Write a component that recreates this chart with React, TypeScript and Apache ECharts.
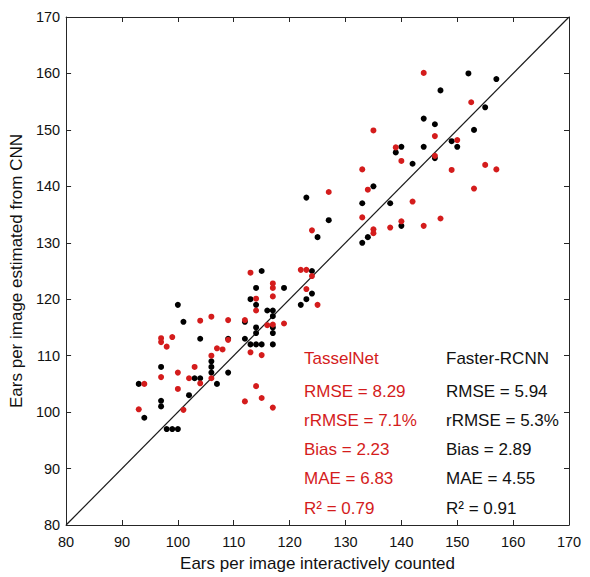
import React, { useEffect, useRef } from "react";
import * as echarts from "echarts";

// Faster-RCNN (black): [interactively counted, estimated]
const fasterRcnn: number[][] = [
  [100, 119], [101, 116], [104, 113], [109, 113], [112, 116], [112, 113],
  [97, 108], [106, 109], [106, 108], [106, 107], [109, 107], [103, 106],
  [104, 106], [107, 105], [93, 105], [102, 103], [97, 102], [97, 101],
  [94, 99], [98, 97], [99, 97], [100, 97], [115, 125], [124, 125],
  [114, 122], [119, 122], [113, 120], [114, 119], [116, 118], [117, 118],
  [117, 117], [114, 115], [117, 115], [114, 114], [117, 114], [113, 112],
  [114, 112], [115, 112], [117, 112], [124, 121], [123, 120], [122, 119],
  [123, 138], [127, 134], [125, 131], [133, 137], [135, 140], [133, 130],
  [134, 131], [152, 160], [147, 157], [155, 154], [144, 152], [146, 151],
  [153, 150], [149, 148], [150, 147], [140, 147], [144, 147], [139, 146],
  [146, 145], [142, 144], [138, 137], [140, 133], [157, 159],
];

// TasselNet (red)
const tasselNet: number[][] = [
  [104, 116.2], [106, 116.9], [109, 116.3], [112, 116.3], [97, 113.1],
  [97, 112.4], [99, 113.3], [98, 111.6], [107, 111.3], [108, 111.1],
  [109, 112.8], [106, 110], [103, 108], [100, 107], [97, 106.2],
  [102, 106], [94, 105], [104, 105.1], [106, 106], [100, 104.1],
  [93, 100.5], [101, 100.4], [112, 101.9], [113, 124.7], [122, 125.2],
  [123, 125.2], [124, 124.1], [117, 122.8], [117, 122], [117, 120.5],
  [114, 120.1], [123, 121.8], [125, 119], [119, 115.7], [116, 115.4],
  [117, 115.5], [113, 110.6], [115, 110.1], [114, 104.6], [115, 102.5],
  [117, 100.8], [114, 118], [127, 139], [124, 132.2], [133, 143],
  [134, 139.4], [133, 134.5], [135, 132.4], [135, 131.7], [144, 160.1],
  [152.5, 154.9], [135, 149.9], [146, 148.9], [150, 148.2], [139, 146.9],
  [140, 144.5], [146, 145.4], [149, 142.9], [155, 143.8], [153, 139.6],
  [142, 137.3], [140, 133.8], [138, 132.7], [144, 133], [147, 134.3],
  [157, 143],
];

const identityLine: number[][] = [[80, 80], [170, 170]];

const tasselStats: string[] = ["TasselNet", "RMSE = 8.29", "rRMSE = 7.1%", "Bias = 2.23", "MAE = 6.83", "R² = 0.79"];
const rcnnStats: string[] = ["Faster-RCNN", "RMSE = 5.94", "rRMSE = 5.3%", "Bias = 2.89", "MAE = 4.55", "R² = 0.91"];
const statsY: number[] = [358, 391, 420, 449, 478, 508];

const RED = "#d41c1c";
const AX = "#262626";
const FONT = "Arial, 'Liberation Sans', sans-serif";

export default function App() {
  const ref = useRef<HTMLDivElement>(null);
  useEffect(() => {
    if (!ref.current) return;
    const chart = echarts.init(ref.current, null, { renderer: "svg" });
    const axisCommon = {
      type: "value" as const,
      min: 80,
      max: 170,
      interval: 10,
      splitLine: { show: false },
      axisLine: { show: true, onZero: false, lineStyle: { color: AX, width: 1 } },
      axisTick: { show: true, inside: true, length: 5, lineStyle: { color: AX } },
    };
    const texts: any[] = [];
    tasselStats.forEach((t, i) =>
      texts.push({
        type: "text", x: 304, y: statsY[i],
        style: { text: t, fill: RED, font: `17px ${FONT}`, verticalAlign: "middle" },
      })
    );
    rcnnStats.forEach((t, i) =>
      texts.push({
        type: "text", x: 446, y: statsY[i],
        style: { text: t, fill: "#111", font: `17px ${FONT}`, verticalAlign: "middle" },
      })
    );
    chart.setOption({
      animation: false,
      backgroundColor: "#fff",
      textStyle: { fontFamily: FONT },
      grid: { left: 66, right: 21, top: 17, bottom: 45, containLabel: false },
      xAxis: [
        {
          ...axisCommon,
          position: "bottom",
          name: "Ears per image interactively counted",
          nameLocation: "middle",
          nameGap: 30,
          nameTextStyle: { fontSize: 17, color: "#111", fontFamily: FONT },
          axisLabel: { fontSize: 14.5, color: "#111", margin: 9, fontFamily: FONT },
        },
        { ...axisCommon, position: "top", axisLabel: { show: false } },
      ],
      yAxis: [
        {
          ...axisCommon,
          position: "left",
          name: "Ears per image estimated from CNN",
          nameLocation: "middle",
          nameGap: 36,
          nameTextStyle: { fontSize: 17, color: "#111", fontFamily: FONT },
          axisLabel: { fontSize: 14.5, color: "#111", margin: 6, fontFamily: FONT },
        },
        { ...axisCommon, position: "right", axisLabel: { show: false } },
      ],
      series: [
        {
          type: "line",
          data: identityLine,
          symbol: "none",
          lineStyle: { color: "#1a1a1a", width: 1.2 },
          z: 1,
        },
        {
          type: "scatter",
          name: "Faster-RCNN",
          data: fasterRcnn,
          symbolSize: 6,
          itemStyle: { color: "#000", opacity: 1 },
          z: 2,
        },
        {
          type: "scatter",
          name: "TasselNet",
          data: tasselNet,
          symbolSize: 6,
          itemStyle: { color: RED, opacity: 1 },
          z: 3,
        },
      ],
      graphic: texts,
    });
    return () => chart.dispose();
  }, []);
  return (
    <div
      ref={ref}
      style={{ position: "absolute", left: 0, top: 0, width: 590, height: 577 }}
    />
  );
}
